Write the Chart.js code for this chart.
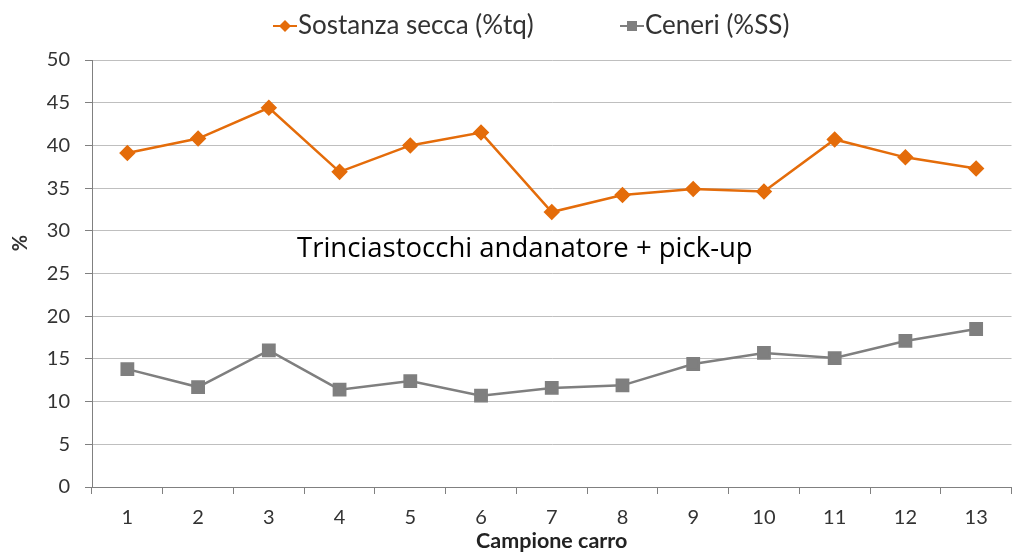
<!DOCTYPE html>
<html>
<head>
<meta charset="utf-8">
<script src="https://cdn.jsdelivr.net/npm/chart.js@4"></script>
<style>
  html, body { margin: 0; padding: 0; background: #fff; }
  #wrap { width: 1022px; height: 560px; }
</style>
</head>
<body>
<div id="wrap"><canvas id="mycanvas" width="1022" height="560"></canvas></div>
<script>
// values
var campioni = ['1','2','3','4','5','6','7','8','9','10','11','12','13'];
var sostanzaSecca = [39.1, 40.8, 44.4, 36.9, 40.0, 41.5, 32.2, 34.2, 34.9, 34.6, 40.7, 38.6, 37.3];
var ceneri = [13.8, 11.7, 16.0, 11.4, 12.4, 10.7, 11.6, 11.9, 14.4, 15.7, 15.1, 17.1, 18.5];
var yTicks = [0, 5, 10, 15, 20, 25, 30, 35, 40, 45, 50];
var serieNomi = ['Sostanza secca (%tq)', 'Ceneri (%SS)'];
var annotazione = 'Trinciastocchi andanatore + pick-up';
var titoloY = '%';

var arancio = '#E46C0A';
var grigio = '#7F7F7F';
var font = 'Lato, "Open Sans", sans-serif';

// legend, annotation and y title drawn by hand (line with marker like excel)
var extraText = {
  id: 'extraText',
  afterDraw: function(chart) {
    var ctx = chart.ctx;
    ctx.save();
    // annotation
    ctx.font = '27.5px "Open Sans", sans-serif';
    ctx.fillStyle = '#000';
    ctx.textAlign = 'left';
    ctx.textBaseline = 'alphabetic';
    ctx.fillText(annotazione, 297, 257);

    // y title, rotated
    ctx.save();
    ctx.translate(21, 243);
    ctx.rotate(-Math.PI / 2);
    ctx.font = 'bold 20px ' + font;
    ctx.fillStyle = '#333';
    ctx.textAlign = 'center';
    ctx.textBaseline = 'middle';
    ctx.fillText(titoloY, 0, 0);
    ctx.restore();

    // legend
    ctx.font = '26px ' + font;
    ctx.textBaseline = 'middle';
    var items = [
      { x: 273, text: serieNomi[0], color: arancio, style: 'diamond' },
      { x: 620, text: serieNomi[1], color: grigio, style: 'square' }
    ];
    var ly = 26;
    items.forEach(function(it) {
      ctx.strokeStyle = it.color;
      ctx.lineWidth = 2;
      ctx.beginPath();
      ctx.moveTo(it.x, ly);
      ctx.lineTo(it.x + 24, ly);
      ctx.stroke();
      ctx.fillStyle = it.color;
      var cx = it.x + 12;
      ctx.beginPath();
      if (it.style === 'diamond') {
        ctx.moveTo(cx, ly - 6); ctx.lineTo(cx + 6, ly); ctx.lineTo(cx, ly + 6); ctx.lineTo(cx - 6, ly);
      } else {
        ctx.rect(cx - 5, ly - 5, 10, 10);
      }
      ctx.closePath();
      ctx.fill();
      ctx.fillStyle = '#333';
      ctx.fillText(it.text, it.x + 25, ly);
    });
    ctx.restore();
  }
};

var chartdata = {
  labels: campioni,
  datasets: [
    {
      label: serieNomi[0],
      data: sostanzaSecca,
      borderColor: arancio,
      backgroundColor: arancio,
      borderWidth: 2.5,
      pointStyle: 'rectRot',
      pointRadius: 6.5,
      pointHoverRadius: 6.5,
      tension: 0
    },
    {
      label: serieNomi[1],
      data: ceneri,
      borderColor: grigio,
      backgroundColor: grigio,
      borderWidth: 2.5,
      pointStyle: 'rect',
      pointRadius: 8,
      pointHoverRadius: 8,
      tension: 0
    }
  ]
};

var ctx = document.getElementById('mycanvas');
var lineGraph = new Chart(ctx, {
  type: 'line',
  data: chartdata,
  plugins: [extraText],
  options: {
    responsive: false,
    animation: false,
    layout: { padding: { top: 60, right: 2, bottom: 0, left: 0 } },
    plugins: {
      legend: { display: false },
      tooltip: { enabled: false }
    },
    scales: {
      x: {
        offset: true,
        grid: { offset: true, drawOnChartArea: false, drawTicks: true, tickLength: 7, color: '#808080' },
        border: { color: '#808080', width: 1 },
        ticks: { color: '#333', font: { family: font, size: 20 }, padding: 12, maxRotation: 0 },
        title: { display: true, text: 'Campione carro', color: '#222', font: { family: font, size: 21.5, weight: 'bold' }, padding: { top: 2, bottom: 6 } },
        afterFit: function(scale) { scale.height = 73; }
      },
      y: {
        min: 0,
        max: 50,
        afterBuildTicks: function(scale) {
          scale.ticks = yTicks.map(function(v) { return { value: v }; });
        },
        grid: { color: '#BFBFBF', tickLength: 7, tickColor: '#808080' },
        border: { color: '#808080', width: 1 },
        ticks: { color: '#333', font: { family: font, size: 20 }, padding: 15 },
        afterFit: function(scale) { scale.width = 92; }
      }
    }
  }
});
</script>
</body>
</html>
